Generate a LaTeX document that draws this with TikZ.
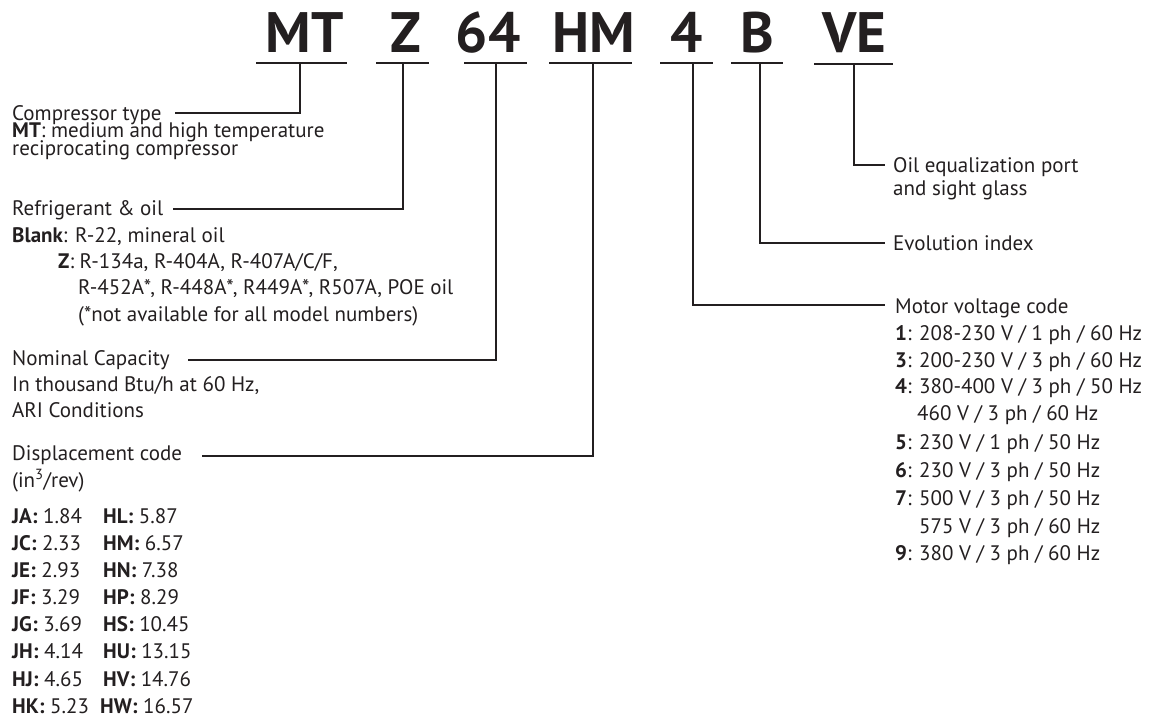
\documentclass[tikz,border=0pt]{standalone}
\usepackage{fontspec}
\setmainfont{PT Sans}
\definecolor{ink}{HTML}{231F20}
\begin{document}
\begin{tikzpicture}[x=1pt,y=-1pt,
  big/.style={font=\bfseries\fontsize{57}{57}\selectfont, anchor=base, inner sep=0pt, text=ink},
  lbl/.style={font=\fontsize{21}{21}\selectfont, anchor=base west, inner sep=0pt, text=ink},
  ul/.style={draw=ink, line width=2pt},
  conn/.style={draw=ink, line width=2pt}]
\useasboundingbox (0,0) rectangle (1149,717);
% header letters
\node[big] (hMT) at (304.5,53) {MT};
\node[big] (hZ) at (406,53) {Z};
\node[big] (h64) at (488,53) {64};
\node[big] (hHM) at (593.5,53) {HM};
\node[big] (h4) at (687,53) {4};
\node[big] (hB) at (757.5,53) {B};
\node[big] (hVE) at (854.5,53) {VE};
% underlines
\draw[ul] (256,63) -- (347,63);
\draw[ul] (376,63) -- (429,63);
\draw[ul] (464,63) -- (527,63);
\draw[ul] (549,63) -- (632,63);
\draw[ul] (660,63) -- (713,63);
\draw[ul] (731,63) -- (783,63);
\draw[ul] (814,64) -- (893,64);
% tick coordinates
\coordinate (tMT) at (300,63);
\coordinate (tZ) at (403,63);
\coordinate (t64) at (496,63);
\coordinate (tHM) at (593,63);
\coordinate (t4) at (693,63);
\coordinate (tB) at (760,63);
\coordinate (tVE) at (854,64);
% left texts
\node[lbl] (ctype) at (12,120) {Compressor type};
\node[lbl] (cmt) at (12,137.5) {\textbf{MT}: medium and high temperature};
\node[lbl] (crec) at (12,155) {reciprocating compressor};
\node[lbl] (rtitle) at (12,215) {Refrigerant \& oil};
\node[lbl] (rblank) at (12,242) {\textbf{Blank}: R-22, mineral oil};
\node[lbl] (rz) at (58,268) {\textbf{Z}: R-134a, R-404A, R-407A/C/F,};
\node[lbl] (rz2) at (78,294) {R-452A*, R-448A*, R449A*, R507A, POE oil};
\node[lbl] (rz3) at (78,321) {(*not available for all model numbers)};
\node[lbl] (n1) at (12,365) {Nominal Capacity};
\node[lbl] (n2) at (12,391) {In thousand Btu/h at 60 Hz,};
\node[lbl] (n3) at (12,417) {ARI Conditions};
\node[lbl] (d1) at (12,460) {Displacement code};
\node[lbl] (d2) at (12,487) {(in\textsuperscript{3}/rev)};
\node[lbl] (dJA) at (12,523) {\textbf{JA:} 1.84};
\node[lbl] (dHL) at (103,523) {\textbf{HL:} 5.87};
\node[lbl] (dJC) at (12,550) {\textbf{JC:} 2.33};
\node[lbl] (dHM) at (103,550) {\textbf{HM:} 6.57};
\node[lbl] (dJE) at (12,577) {\textbf{JE:} 2.93};
\node[lbl] (dHN) at (103,577) {\textbf{HN:} 7.38};
\node[lbl] (dJF) at (12,604) {\textbf{JF:} 3.29};
\node[lbl] (dHP) at (103,604) {\textbf{HP:} 8.29};
\node[lbl] (dJG) at (12,631) {\textbf{JG:} 3.69};
\node[lbl] (dHS) at (103,631) {\textbf{HS:} 10.45};
\node[lbl] (dJH) at (12,658) {\textbf{JH:} 4.14};
\node[lbl] (dHU) at (103,658) {\textbf{HU:} 13.15};
\node[lbl] (dHJ) at (12,686) {\textbf{HJ:} 4.65};
\node[lbl] (dHV) at (103,686) {\textbf{HV:} 14.76};
\node[lbl] (dHK) at (12,713) {\textbf{HK:} 5.23};
\node[lbl] (dHW) at (100,713) {\textbf{HW:} 16.57};
% right texts
\node[lbl] (oil1) at (893,172) {Oil equalization port};
\node[lbl] (oil2) at (893,195) {and sight glass};
\node[lbl] (evo) at (893,250) {Evolution index};
\node[lbl] (mv) at (895,313) {Motor voltage code};
\node[lbl] (mv1) at (895,340) {\textbf{1}: 208-230 V / 1 ph / 60 Hz};
\node[lbl] (mv3) at (895,367) {\textbf{3}: 200-230 V / 3 ph / 60 Hz};
\node[lbl] (mv4) at (895,393) {\textbf{4}: 380-400 V / 3 ph / 50 Hz};
\node[lbl] (mv4b) at (917,420) {460 V / 3 ph / 60 Hz};
\node[lbl] (mv5) at (895,449) {\textbf{5}: 230 V / 1 ph / 50 Hz};
\node[lbl] (mv6) at (895,477) {\textbf{6}: 230 V / 3 ph / 50 Hz};
\node[lbl] (mv7) at (895,505) {\textbf{7}: 500 V / 3 ph / 50 Hz};
\node[lbl] (mv7b) at (919,533) {575 V / 3 ph / 60 Hz};
\node[lbl] (mv9) at (895,560) {\textbf{9}: 380 V / 3 ph / 60 Hz};
% connector ends
\coordinate (eMT) at (175,113);
\coordinate (eZ) at (173,209);
\coordinate (e64) at (188,360);
\coordinate (eHM) at (202,456);
\coordinate (e4) at (885,305);
\coordinate (eB) at (885,243);
\coordinate (eVE) at (885,165);
% connectors
\draw[conn] (tMT) |- (eMT);
\draw[conn] (tZ) |- (eZ);
\draw[conn] (t64) |- (e64);
\draw[conn] (tHM) |- (eHM);
\draw[conn] (t4) |- (e4);
\draw[conn] (tB) |- (eB);
\draw[conn] (tVE) |- (eVE);
\end{tikzpicture}
\end{document}
